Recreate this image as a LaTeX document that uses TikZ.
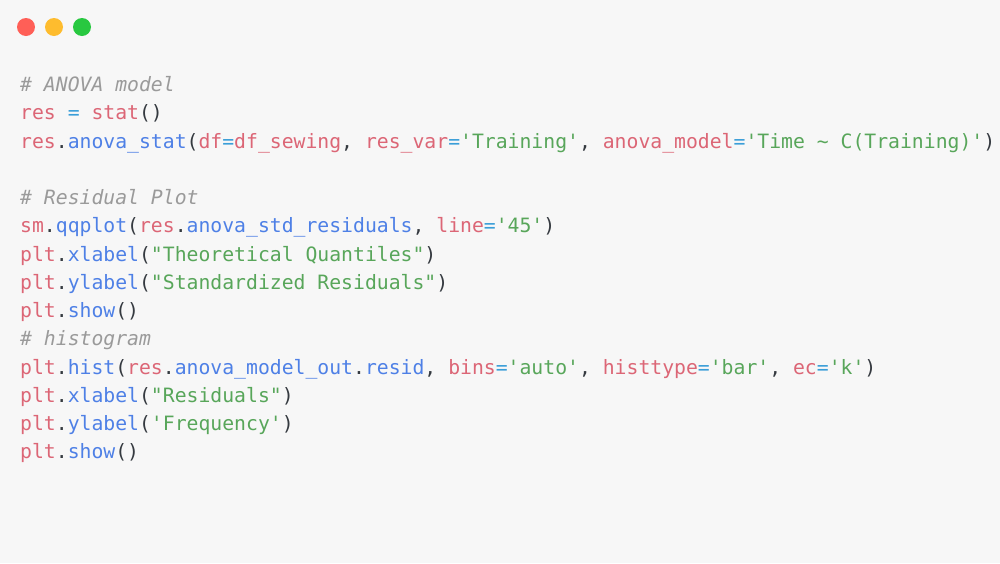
\documentclass[tikz,border=0pt]{standalone}
\usepackage{fontspec}
\setmonofont{DejaVu Sans Mono}
\usepackage{xcolor}
\usetikzlibrary{positioning}
\definecolor{bgcolor}{HTML}{F7F7F7}
\definecolor{codedark}{HTML}{353A40}
\definecolor{codered}{HTML}{DC6676}
\definecolor{codeblue}{HTML}{4E80E6}
\definecolor{codegreen}{HTML}{58A65A}
\definecolor{codeop}{HTML}{3A9ED8}
\definecolor{codecomment}{HTML}{9A9A9A}
\definecolor{dotred}{HTML}{FF5F57}
\definecolor{dotyellow}{HTML}{FEBC2E}
\definecolor{dotgreen}{HTML}{28C840}
\newcommand{\cred}[1]{\textcolor{codered}{#1}}
\newcommand{\cblue}[1]{\textcolor{codeblue}{#1}}
\newcommand{\cgreen}[1]{\textcolor{codegreen}{#1}}
\newcommand{\cop}[1]{\textcolor{codeop}{#1}}
\newcommand{\ccom}[1]{\textcolor{codecomment}{\itshape #1}}
% fixed-width spaces, as wide as a letter
\newcommand{\codefont}{\ttfamily\fontsize{19.75}{28}\selectfont\fontdimen2\font=\fontcharwd\font`x\fontdimen3\font=0pt\fontdimen4\font=0pt}
\tikzset{
code line/.style = {anchor = base west, inner sep = 0pt, text = codedark, font = \codefont},
window dot/.style = {circle, draw = none, inner sep = 0pt, minimum size = 18pt},
}

\begin{document}
\begin{tikzpicture}[x = 1pt, y = -1pt]
    \useasboundingbox[fill = bgcolor] (0, 0) rectangle (1000, 563);
    \node[window dot, fill = dotred] (close) at (26, 27) {};
    \node[window dot, fill = dotyellow] (minimize) at (54, 27) {};
    \node[window dot, fill = dotgreen] (zoom) at (82, 27) {};
    \node[code line] (l1) at (20, 91.5) {\ccom{\# ANOVA model}};
    \node[code line] (l2) at (20, 119.75) {\cred{res} \cop{=} \cred{stat}()};
    \node[code line] (l3) at (20, 148) {\cred{res}.\cblue{anova\_stat}(\cred{df}\cop{=}\cred{df\_sewing}, \cred{res\_var}\cop{=}\cgreen{'Training'}, \cred{anova\_model}\cop{=}\cgreen{'Time \textasciitilde{} C(Training)'})};
    \node[code line] (l5) at (20, 204.5) {\ccom{\# Residual Plot}};
    \node[code line] (l6) at (20, 232.75) {\cred{sm}.\cblue{qqplot}(\cred{res}.\cblue{anova\_std\_residuals}, \cred{line}\cop{=}\cgreen{'45'})};
    \node[code line] (l7) at (20, 261) {\cred{plt}.\cblue{xlabel}(\cgreen{"Theoretical Quantiles"})};
    \node[code line] (l8) at (20, 289.25) {\cred{plt}.\cblue{ylabel}(\cgreen{"Standardized Residuals"})};
    \node[code line] (l9) at (20, 317.5) {\cred{plt}.\cblue{show}()};
    \node[code line] (l10) at (20, 345.75) {\ccom{\# histogram}};
    \node[code line] (l11) at (20, 374) {\cred{plt}.\cblue{hist}(\cred{res}.\cblue{anova\_model\_out}.\cblue{resid}, \cred{bins}\cop{=}\cgreen{'auto'}, \cred{histtype}\cop{=}\cgreen{'bar'}, \cred{ec}\cop{=}\cgreen{'k'})};
    \node[code line] (l12) at (20, 402.25) {\cred{plt}.\cblue{xlabel}(\cgreen{"Residuals"})};
    \node[code line] (l13) at (20, 430.5) {\cred{plt}.\cblue{ylabel}(\cgreen{'Frequency'})};
    \node[code line] (l14) at (20, 458.75) {\cred{plt}.\cblue{show}()};
  \end{tikzpicture}
\end{document}
